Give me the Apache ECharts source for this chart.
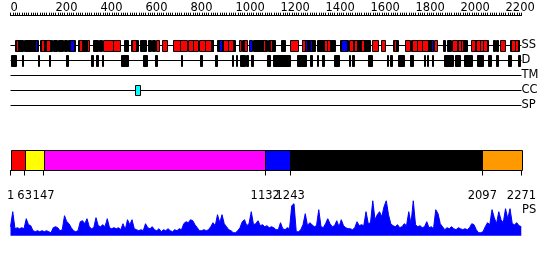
<!DOCTYPE html>
<html><head><meta charset="utf-8">
<script src="https://cdn.jsdelivr.net/npm/echarts@6/dist/echarts.min.js"></script>
<style>html,body{margin:0;padding:0;background:#fff}#c{width:550px;height:260px}</style>
</head><body><div id="c"></div>
<script>
const seqLength = 2271;
const rulerLabelStep = 200;
const rulerTickStep = 10;
const trackNames = ['SS', 'D', 'TM', 'CC', 'SP'];
const ssCoil = [[20,54],[60,94],[97,124],[131,183],[188,208],[212,235],[239,250],[257,287],[301,339],[368,388],[393,405],[504,524],[535,568],[575,601],[612,623],[627,642],[864,901],[919,998],[1030,1037],[1079,1139],[1146,1176],[1201,1220],[1294,1353],[1361,1383],[1383,1442],[1464,1501],[1524,1598],[1701,1723],[1780,1860],[1860,1879],[1924,1931],[1939,1958],[1983,2028],[2064,2121],[2146,2153],[2158,2165],[2220,2260]];
const ssHelix = [[23,35],[100,106],[136,148],[156,177],[304,319],[341,350],[396,402],[412,457],[457,487],[540,558],[647,661],[675,697],[724,752],[752,783],[790,812],[812,835],[839,864],[864,891],[944,968],[968,990],[1015,1023],[1038,1051],[1094,1101],[1122,1131],[1153,1162],[1242,1276],[1296,1307],[1394,1405],[1405,1418],[1504,1524],[1528,1540],[1556,1570],[1605,1632],[1647,1664],[1705,1715],[1753,1776],[1784,1806],[1806,1830],[1830,1856],[1884,1897],[1961,1983],[1988,2000],[2000,2010],[2047,2064],[2068,2085],[2085,2100],[2100,2117],[2176,2198],[2226,2242],[2242,2256]];
const ssStrand = [[41,47],[68,72],[110,116],[241,247],[263,282],[894,900],[927,941],[1061,1072],[1208,1213],[1311,1318],[1322,1328],[1333,1340],[1470,1496],[1543,1549],[1867,1876]];
const disorder = [[0,23],[50,57],[121,128],[170,177],[247,257],[358,368],[380,388],[405,412],[490,521],[590,605],[642,650],[758,761],[842,850],[909,916],[983,990],[1001,1005],[1020,1042],[1046,1057],[1068,1076],[1139,1153],[1165,1242],[1272,1313],[1331,1339],[1361,1368],[1383,1395],[1439,1460],[1504,1509],[1519,1525],[1590,1605],[1672,1679],[1687,1694],[1721,1750],[1776,1790],[1838,1842],[1850,1857],[1875,1879],[1928,1968],[1975,1998],[2017,2050],[2072,2101],[2124,2136],[2156,2165],[2212,2224],[2254,2264]];
const coiledCoil = [[553,575]];
const domainBounds = [1, 63, 147, 1132, 1243, 2097, 2271];
const psStep = 10;
const psValues = [9,24,7,8,7,8,7,17,11,10,
5,4,5,4,5,4,5,4,3,8,
9,8,5,6,20,14,12,8,5,4,
5,14,15,12,17,9,7,8,18,10,
9,11,9,17,8,7,8,7,8,6,
12,6,16,11,16,7,6,5,6,5,
12,8,7,9,6,5,7,4,6,5,
7,5,4,6,5,7,6,12,14,13,
16,15,11,8,5,5,6,5,6,9,
13,10,21,13,21,12,9,6,5,3,
3,5,8,14,16,10,12,24,11,12,
15,10,11,9,10,8,9,8,
6,6,13,7,6,8,7,30,32,4,
4,6,11,22,10,13,11,9,10,26,
9,8,12,17,12,9,10,15,9,16,
10,8,7,7,6,8,14,10,11,10,
24,12,13,35,16,21,24,19,29,35,
21,12,10,9,11,8,9,12,10,24,
12,35,11,9,10,8,9,14,8,9,
7,26,22,12,9,6,8,7,9,7,
6,8,7,6,7,6,8,12,11,6,
3,3,4,9,13,11,26,18,12,24,
16,13,27,17,27,12,11,13,10,9];

const FONT = 'DejaVu Sans';
const domainColors = ['#ff0000', '#ffff00', '#ff00ff', '#0000ff', '#000000', '#ff9900'];
const L = 10.5, R = 28.5;

function boxRenderer(fill, hPx) {
  return function (params, api) {
    const s = api.coord([api.value(0), api.value(2)]);
    const e = api.coord([api.value(1), api.value(2)]);
    const fillColor = typeof fill === 'function' ? fill(params.dataIndex) : fill;
    const x0 = Math.round(s[0]) + 0.5;
    const x1 = Math.max(Math.round(e[0]) + 0.5, x0 + 1);
    const yc = s[1];
    const y0 = Math.round(yc - hPx / 2) + 0.5;
    return {
      type: 'rect',
      shape: { x: x0, y: y0, width: x1 - x0, height: hPx },
      style: { fill: fillColor, stroke: '#000', lineWidth: 1 }
    };
  };
}
function withTrack(arr, idx) { return arr.map(d => [d[0], d[1], idx]); }

const chart = echarts.init(document.getElementById('c'), null, { renderer: 'canvas' });
const option = {
  animation: false,
  backgroundColor: '#fff',
  textStyle: { fontFamily: FONT },
  grid: [
    { left: L, right: R, top: 37.5, height: 75 },
    { left: L, right: R, top: 150, height: 20.5 },
    { left: L, right: R, top: 200.7, height: 35 }
  ],
  xAxis: [
    {
      gridIndex: 0, type: 'value', min: 0, max: seqLength, interval: rulerTickStep,
      position: 'top', offset: 21.8,
      axisLine: { show: true, lineStyle: { color: '#000', width: 1 } },
      axisTick: { show: true, length: 3, lineStyle: { color: '#000' } },
      splitLine: { show: false },
      axisLabel: {
        show: true, margin: 2, align: 'left', color: '#000', fontSize: 11.5, fontFamily: FONT,
        showMaxLabel: false,
        formatter: v => (v % rulerLabelStep === 0 ? String(v) : '')
      }
    },
    {
      gridIndex: 1, type: 'value', min: 0, max: seqLength,
      position: 'bottom', offset: 10,
      axisLine: { show: true, lineStyle: { color: '#000', width: 1 } },
      axisTick: { show: true, length: 5, customValues: domainBounds, lineStyle: { color: '#000' } },
      splitLine: { show: false },
      axisLabel: {
        show: true, margin: 10, color: '#000', fontSize: 11.5, fontFamily: FONT,
        customValues: domainBounds, hideOverlap: false,
        formatter: v => String(v)
      }
    },
    { gridIndex: 2, type: 'value', min: 0, max: seqLength, show: false }
  ],
  yAxis: [
    {
      gridIndex: 0, type: 'category', data: trackNames, inverse: true, position: 'right',
      axisLine: { show: false }, axisTick: { show: false }, splitLine: { show: false },
      axisLabel: { interval: 0, hideOverlap: false, margin: 0, color: '#000', fontSize: 11.5, fontFamily: FONT, align: 'left' }
    },
    { gridIndex: 1, type: 'value', min: 0, max: 1, show: false },
    { gridIndex: 2, type: 'value', min: 0, max: 35, show: false }
  ],
  graphic: [
    { type: 'text', left: 522, top: 204, style: { text: 'PS', fill: '#000', font: '11.5px "DejaVu Sans"' } }
  ],
  series: [
    {
      type: 'custom', xAxisIndex: 0, yAxisIndex: 0, encode: { x: [0, 1], y: 2 },
      data: trackNames.map((n, i) => [0, seqLength, i]),
      renderItem: function (params, api) {
        const s = api.coord([api.value(0), api.value(2)]);
        const e = api.coord([api.value(1), api.value(2)]);
        const y = Math.round(s[1]) + 0.5;
        return { type: 'line', shape: { x1: s[0], y1: y, x2: e[0], y2: y }, style: { stroke: '#000', lineWidth: 1 } };
      }
    },
    { type: 'custom', xAxisIndex: 0, yAxisIndex: 0, encode: { x: [0, 1], y: 2 }, data: withTrack(ssCoil, 0), renderItem: boxRenderer('#000', 11) },
    { type: 'custom', xAxisIndex: 0, yAxisIndex: 0, encode: { x: [0, 1], y: 2 }, data: withTrack(ssHelix, 0), renderItem: boxRenderer('#ff0000', 11) },
    { type: 'custom', xAxisIndex: 0, yAxisIndex: 0, encode: { x: [0, 1], y: 2 }, data: withTrack(ssStrand, 0), renderItem: boxRenderer('#0000ff', 11) },
    { type: 'custom', xAxisIndex: 0, yAxisIndex: 0, encode: { x: [0, 1], y: 2 }, data: withTrack(disorder, 1), renderItem: boxRenderer('#000', 11) },
    { type: 'custom', xAxisIndex: 0, yAxisIndex: 0, encode: { x: [0, 1], y: 2 }, data: withTrack(coiledCoil, 3), renderItem: boxRenderer('#00ffff', 10) },
    {
      type: 'custom', xAxisIndex: 1, yAxisIndex: 1, encode: { x: [0, 1], y: 2 },
      data: domainBounds.slice(0, -1).map((b, i) => [b, domainBounds[i + 1], 0.5]),
      renderItem: boxRenderer(i => domainColors[i], 20)
    },
    {
      type: 'line', xAxisIndex: 2, yAxisIndex: 2,
      data: psValues.map((v, i) => [i * psStep, v]),
      showSymbol: false, symbol: 'none',
      lineStyle: { color: '#0000ff', width: 1 },
      areaStyle: { color: '#0000ff', opacity: 1 },
      silent: true
    }
  ]
};
chart.setOption(option);
</script>
</body></html>
